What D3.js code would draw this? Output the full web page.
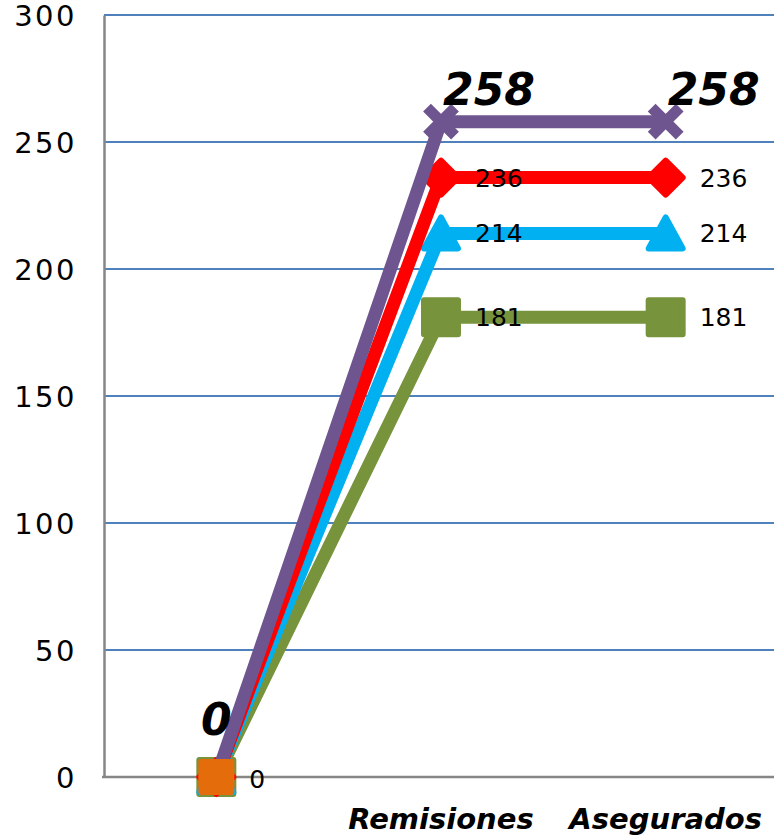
<!DOCTYPE html>
<html><head><meta charset="utf-8">
<script src="https://cdn.jsdelivr.net/npm/d3@7"></script>
<style>body{margin:0;background:#fff}svg{display:block}</style>
</head><body>
<svg id="c" width="774" height="837"></svg>
<script>
const categories = ["", "Remisiones", "Asegurados"];
const yTicks = [0, 50, 100, 150, 200, 250, 300];
const greenValues = [0, 181, 181];
const cyanValues = [0, 214, 214];
const redValues = [0, 236, 236];
const purpleValues = [0, 258, 258];
const orangeValues = [0];

(function () {
const series = [
  {key:"green", values:greenValues, color:"#77933C", marker:"square"},
  {key:"cyan", values:cyanValues, color:"#00B0F0", marker:"triangle"},
  {key:"red", values:redValues, color:"#FF0000", marker:"diamond"},
  {key:"purple", values:purpleValues, color:"#6F5590", marker:"x"},
  {key:"orange", values:orangeValues, color:"#E46C0A", marker:"square2"}
];

const svg = d3.select("#c");
const mLeft = 104, mRight = 774, mTop = 15, mBottom = 777;
const x = d3.scalePoint().domain(categories).range([mLeft, mRight + 4]).padding(0.5);
const y = d3.scaleLinear().domain([0, 300]).range([mBottom, mTop]);

svg.append("g").selectAll("line").data(yTicks.filter(d => d > 0)).join("line")
  .attr("x1", mLeft).attr("x2", mRight).attr("y1", d => y(d)).attr("y2", d => y(d))
  .attr("stroke", "#4F81BD").attr("stroke-width", 2);

const yAxis = svg.append("g").attr("transform", `translate(${mLeft},0)`)
  .call(d3.axisLeft(y).tickValues(yTicks).tickSize(0).tickPadding(27));
yAxis.select(".domain").attr("stroke", "#868686").attr("stroke-width", 2.5);
yAxis.selectAll("text").attr("font-family", "DejaVu Sans").attr("font-size", 29)
  .attr("letter-spacing", 2.5).attr("fill", "#000").attr("dy", "0.36em");

svg.append("line").attr("x1", mLeft - 2).attr("x2", mRight).attr("y1", mBottom).attr("y2", mBottom)
  .attr("stroke", "#868686").attr("stroke-width", 2.5);

svg.append("g").selectAll("text").data(categories).join("text")
  .attr("x", d => x(d)).attr("y", 829).attr("text-anchor", "middle")
  .attr("font-family", "DejaVu Sans").attr("font-weight", "bold").attr("font-style", "italic")
  .attr("font-size", 29).text(d => d);

function markerPath(type) {
  switch (type) {
    case "square": return "M-17,-17H17V17H-17Z";
    case "square2": return "M-15,-15H15V15H-15Z";
    case "diamond": return "M0,-17L17,0L0,17L-17,0Z";
    case "triangle": return "M0,-16L17,15H-17Z";
    case "x": return "M-14,-14L14,14M14,-14L-14,14";
  }
}

const line = d3.line().x((d, i) => x(categories[i])).y(d => y(d));
series.forEach(s => {
  const g = svg.append("g");
  if (s.values.length > 1) {
    g.append("path").attr("d", line(s.values)).attr("fill", "none")
      .attr("stroke", s.color).attr("stroke-width", 13).attr("stroke-linejoin", "round");
  }
  s.values.forEach((v, i) => {
    const m = g.append("path").attr("d", markerPath(s.marker))
      .attr("transform", `translate(${x(categories[i])},${y(v)})`);
    if (s.marker === "x") {
      m.attr("fill", "none").attr("stroke", s.color).attr("stroke-width", 11);
    } else {
      m.attr("fill", s.color).attr("stroke", s.color).attr("stroke-width", 6).attr("stroke-linejoin", "round");
    }
  });
});

const labels = svg.append("g").attr("font-family", "DejaVu Sans").attr("fill", "#000");
[greenValues, cyanValues, redValues].forEach(vals => {
  vals.forEach((v, i) => {
    if (i === 0) return;
    labels.append("text").attr("x", x(categories[i]) + 34).attr("y", y(v)).attr("dy", "0.36em")
      .attr("font-size", 25).text(v);
  });
});
purpleValues.forEach((v, i) => {
  const dx = i === 0 ? 0 : 48;
  labels.append("text").attr("x", x(categories[i]) + dx).attr("y", y(v) - (i === 0 ? 42 : 17))
    .attr("text-anchor", "middle").attr("font-size", 44).attr("font-weight", "bold")
    .attr("font-style", "italic").text(v);
});
orangeValues.forEach((v, i) => {
  labels.append("text").attr("x", x(categories[i]) + 33).attr("y", y(v) + 2).attr("dy", "0.36em")
    .attr("font-size", 25).text(v);
});
})();
</script>
</body></html>
